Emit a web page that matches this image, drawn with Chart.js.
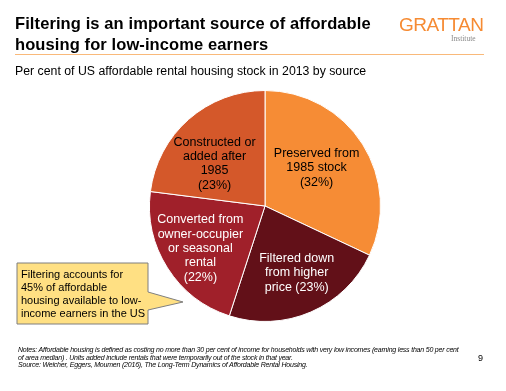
<!DOCTYPE html>
<html>
<head>
<meta charset="utf-8">
<script src="https://cdn.jsdelivr.net/npm/chart.js@4"></script>
<style>
  body { margin: 0; background: #fff; font-family: "Liberation Sans", Arial, sans-serif; }
  #wrap { position: relative; width: 506px; height: 391px; overflow: hidden; }
  #pie { position: absolute; left: 0; top: 0; }
  .title { position: absolute; left: 15px; top: 13px; font-size: 16.5px; font-weight: bold; line-height: 21px; color: #000; letter-spacing: 0.1px; }
  .rule { position: absolute; left: 15px; top: 54px; width: 469px; height: 1px; background: #F9B97A; }
  .sub { position: absolute; left: 15px; top: 64px; font-size: 12.3px; color: #000; }
  .logo { position: absolute; left: 399px; top: 14px; font-size: 19px; color: #F68B33; letter-spacing: -0.5px; }
  .inst { position: absolute; left: 451px; top: 34px; font-family: "Liberation Serif", serif; font-size: 7.5px; color: #888; }
  .notes { position: absolute; left: 18px; top: 346px; font-size: 7px; font-style: italic; line-height: 7.5px; color: #000; letter-spacing: -0.2px; white-space: nowrap; }
  .page { position: absolute; left: 478px; top: 353px; font-size: 9px; }
  .callout { position: absolute; left: 0; top: 0; }
  .ctext { position: absolute; left: 21px; top: 268px; font-size: 11px; line-height: 13px; color: #000; }
</style>
</head>
<body>
<div id="wrap">
  <canvas id="pie" width="506" height="391"></canvas>
  <div class="title">Filtering is an important source of affordable<br>housing for low-income earners</div>
  <div class="rule"></div>
  <div class="sub">Per cent of US affordable rental housing stock in 2013 by source</div>
  <div class="logo">GRATTAN</div>
  <div class="inst">Institute</div>
  <svg class="callout" width="506" height="391">
    <polygon points="17,263 148,263 148,292 183,302 148,310 148,324 17,324" fill="#FFE083" stroke="#7F7F7F" stroke-width="1"/>
  </svg>
  <div class="ctext">Filtering accounts for<br>45% of affordable<br>housing available to low-<br>income earners in the US</div>
  <div class="notes">Notes: Affordable housing is defined as costing no more than 30 per cent of income for households with very low incomes (earning less than 50 per cent<br>of area median) . Units added include rentals that were temporarily out of the stock in that year.<br>Source: Weicher, Eggers, Moumen (2016), The Long-Term Dynamics of Affordable Rental Housing.</div>
  <div class="page">9</div>
</div>
<script>
const sources = [
  ["Preserved from", "1985 stock", "(32%)"],
  ["Filtered down", "from higher", "price (23%)"],
  ["Converted from", "owner-occupier", "or seasonal", "rental", "(22%)"],
  ["Constructed or", "added after", "1985", "(23%)"]
];
const shares = [32, 23, 22, 23];

const sliceColors = ['#F68C35', '#621018', '#A0202A', '#D4582A'];
const textColors = ['#000', '#fff', '#fff', '#000'];
// label placement: fraction of radius, and angle nudge (degrees) off the slice bisector
const labelDist = [0.555, 0.64, 0.67, 0.57];
const labelTurn = [-4, -2, -1, -8.6];

const sliceLabels = {
  id: 'sliceLabels',
  afterDatasetsDraw(chart) {
    const ctx = chart.ctx;
    const meta = chart.getDatasetMeta(0);
    ctx.save();
    ctx.font = '12.5px "Liberation Sans", Arial, sans-serif';
    ctx.textAlign = 'center';
    ctx.textBaseline = 'middle';
    meta.data.forEach((arc, i) => {
      const mid = (arc.startAngle + arc.endAngle) / 2 + labelTurn[i] * Math.PI / 180;
      const r = arc.outerRadius * labelDist[i];
      const x = arc.x + Math.cos(mid) * r;
      const y = arc.y + Math.sin(mid) * r;
      const lines = sources[i];
      const lh = 14.4;
      ctx.fillStyle = textColors[i];
      lines.forEach((t, j) => {
        ctx.fillText(t, x, y + (j - (lines.length - 1) / 2) * lh);
      });
    });
    ctx.restore();
  }
};

new Chart(document.getElementById('pie'), {
  type: 'pie',
  data: {
    labels: sources.map(s => s.join(' ')),
    datasets: [{
      data: shares,
      backgroundColor: sliceColors,
      borderColor: '#fff',
      borderWidth: 1
    }]
  },
  options: {
    responsive: false,
    animation: false,
    layout: { padding: { left: 149, right: 125, top: 90, bottom: 69 } },
    plugins: { legend: { display: false }, tooltip: { enabled: false } }
  },
  plugins: [sliceLabels]
});
</script>
</body>
</html>
